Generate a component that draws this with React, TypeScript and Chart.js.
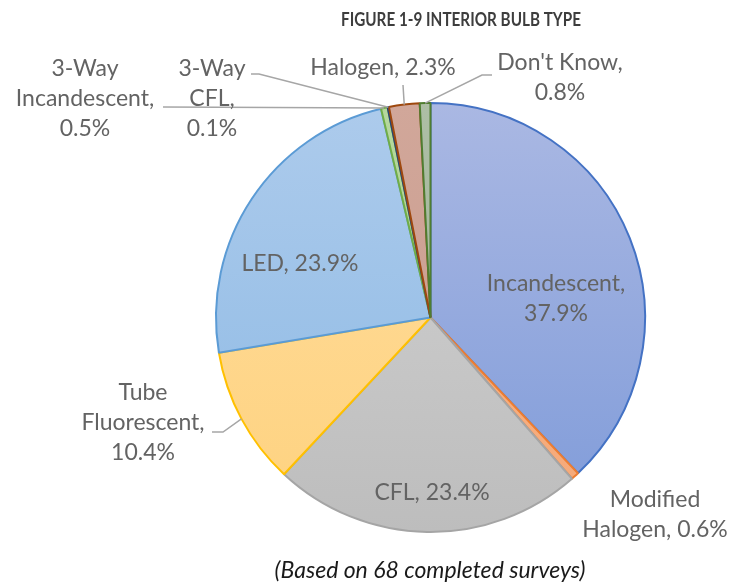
import React, { useEffect, useRef } from "react";
import { Chart, registerables } from "chart.js";

Chart.register(...registerables);

// ---- data ----
const categories = [
  "Incandescent",
  "Modified Halogen",
  "CFL",
  "Tube Fluorescent",
  "LED",
  "3-Way Incandescent",
  "3-Way CFL",
  "Halogen",
  "Don't Know",
];
const shares = [37.9, 0.6, 23.4, 10.4, 23.9, 0.5, 0.1, 2.3, 0.8];
const chartTitle = "FIGURE 1-9 INTERIOR BULB TYPE";
const footnote = "(Based on 68 completed surveys)";

// ---- styles / layout ----
const fillTop = ["#aab8e3", "#f9b98f", "#d3d3d3", "#ffdd9e", "#adcbec", "#b6d89e", "#3a5a96", "#d1a79a", "#adbea5"];
const fillBottom = ["#7f9bd9", "#f5a877", "#bdbdbd", "#fed27f", "#8cb9e4", "#a5cf8a", "#264478", "#c99a8b", "#9fb397"];
const borderColors = ["#4472c4", "#ed7d31", "#a5a5a5", "#ffc000", "#5b9bd5", "#70ad47", "#264478", "#9e480e", "#4f7d30"];
// words per line for each data label
const labelWrap = [[1, 1], [1, 2], [2], [1, 1, 1], [2], [1, 1, 1], [1, 1, 1], [2], [2, 1]];
// centre of first line of each label
const labelPos: [number, number][] = [
  [556, 284], [655, 500], [432, 493], [143, 393], [300, 264],
  [85, 69], [212, 69], [383, 68], [560, 63],
];
// leader line points (before reaching the slice edge)
const leaders: ([number, number][] | null)[] = [
  null, null, null,
  [[212, 432], [223, 432]],
  null,
  [[163, 107]],
  [[251, 74], [259, 74]],
  [[403, 85]],
  [[492, 75], [482, 75]],
];
const LABEL_FONT = "23px Lato, 'Liberation Sans', sans-serif";
const LINE_H = 30;
const TITLE_WIDTH = 240;

const labelPlugin = {
  id: "bulbLabels",
  afterDatasetsDraw(chart: any) {
    const ctx = chart.ctx as CanvasRenderingContext2D;
    const meta = chart.getDatasetMeta(0);
    ctx.save();
    // leader lines
    ctx.strokeStyle = "#a6a6a6";
    ctx.lineWidth = 1.5;
    meta.data.forEach((el: any, i: number) => {
      const pts = leaders[i];
      if (!pts) return;
      const p = el.getProps(["x", "y", "startAngle", "endAngle", "outerRadius"], true);
      const mid = (p.startAngle + p.endAngle) / 2;
      const ex = p.x + Math.cos(mid) * p.outerRadius;
      const ey = p.y + Math.sin(mid) * p.outerRadius;
      ctx.beginPath();
      ctx.moveTo(pts[0][0], pts[0][1]);
      for (let k = 1; k < pts.length; k++) ctx.lineTo(pts[k][0], pts[k][1]);
      ctx.lineTo(ex, ey);
      ctx.stroke();
    });
    // labels
    ctx.font = LABEL_FONT;
    ctx.fillStyle = "#636363";
    ctx.textAlign = "center";
    ctx.textBaseline = "middle";
    categories.forEach((cat, i) => {
      const words = `${cat}, ${shares[i].toFixed(1)}%`.split(" ");
      const lines: string[] = [];
      let w = 0;
      labelWrap[i].forEach((n) => {
        lines.push(words.slice(w, w + n).join(" "));
        w += n;
      });
      const [x, y] = labelPos[i];
      lines.forEach((ln, k) => ctx.fillText(ln, x, y + k * LINE_H));
    });
    // title (condensed to fit)
    ctx.save();
    ctx.font = "bold 19px Lato, 'DejaVu Sans', sans-serif";
    ctx.fillStyle = "#3d3d3d";
    const tw = ctx.measureText(chartTitle).width;
    const sx = Math.min(1, TITLE_WIDTH / tw);
    ctx.translate(461, 20);
    ctx.scale(sx, 1);
    ctx.fillText(chartTitle, 0, 0);
    ctx.restore();
    // footnote
    ctx.font = "italic 23px Lato, 'Liberation Sans', sans-serif";
    ctx.fillStyle = "#1a1a1a";
    ctx.fillText(footnote, 430, 571);
    ctx.restore();
  },
};

export default function App() {
  const ref = useRef<HTMLCanvasElement | null>(null);
  useEffect(() => {
    document.body.style.margin = "0";
    const canvas = ref.current;
    if (!canvas) return;
    const chart = new Chart(canvas, {
      type: "pie",
      data: {
        labels: categories,
        datasets: [
          {
            data: shares,
            backgroundColor: (c: any) => {
              const i = c.dataIndex ?? 0;
              const a = c.chart.chartArea;
              if (!a) return fillBottom[i];
              const g = c.chart.ctx.createLinearGradient(0, a.top, 0, a.bottom);
              g.addColorStop(0, fillTop[i]);
              g.addColorStop(1, fillBottom[i]);
              return g;
            },
            borderColor: borderColors,
            borderWidth: 2,
          },
        ],
      },
      options: {
        responsive: false,
        animation: false,
        layout: { padding: { left: 215, top: 102, right: 84, bottom: 55 } },
        plugins: {
          legend: { display: false },
          title: { display: false },
          tooltip: { enabled: false },
        },
      },
      plugins: [labelPlugin],
    });
    return () => chart.destroy();
  }, []);
  return (
    <div style={{ width: 730, height: 588, background: "#ffffff" }}>
      <canvas ref={ref} width={730} height={588} style={{ display: "block" }} />
    </div>
  );
}
